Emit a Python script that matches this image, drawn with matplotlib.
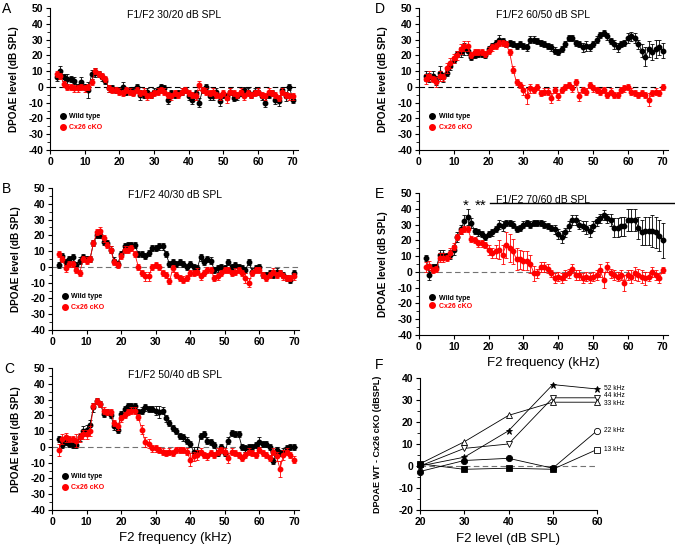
import numpy as np
import matplotlib
matplotlib.use("Agg")
import matplotlib.pyplot as plt
from matplotlib.lines import Line2D
from matplotlib.ticker import MultipleLocator

plt.rcParams['font.family'] = ['Liberation Sans', 'DejaVu Sans']

freq = np.arange(2, 71)

# panel A  F1/F2 30/20
a_wt = [6, 10, 6, 5, 5, 4, 0, 3, 0, -2,
        8, 9, 8, 6, 4, -1, -1, -2, -2, 0,
        -3, -2, -3, 0, -5, -5, -3, -5, -3, -2,
        0, -1, -8, -4, -5, -4, -3, -2, -6, -8,
        -4, -10, -2, 0, -6, -6, -3, -9, -5, -6,
        -3, -7, -6, -4, -2, -3, -5, -3, -3, -6,
        -10, -5, -4, -8, -9, -2, -6, 0, -8]
a_wt_err = [2, 3, 2, 3, 2, 2, 2, 3, 2, 5,
            3, 3, 2, 2, 2, 2, 2, 2, 2, 3,
            2, 2, 2, 2, 3, 2, 2, 2, 2, 2,
            2, 2, 3, 2, 2, 2, 2, 2, 2, 3,
            2, 3, 2, 2, 2, 2, 2, 3, 2, 2,
            2, 2, 2, 2, 2, 2, 2, 2, 2, 2,
            3, 2, 2, 3, 3, 2, 3, 2, 2]
a_ko = [8, 7, 2, 0, 0, -1, -1, 0, -1, 0,
        3, 10, 8, 7, 5, -1, -2, -2, -3, -4,
        -2, -3, -4, -2, -4, -3, -6, -5, -4, -3,
        -2, -3, -5, -6, -4, -5, -3, -2, -4, -5,
        -6, 1, -2, -3, -4, -3, -5, -6, -4, -7,
        -3, -4, -5, -3, -6, -4, -5, -4, -3, -5,
        -6, -3, -4, -5, -7, -3, -5, -6, -6]
a_ko_err = [2, 2, 2, 2, 2, 2, 2, 2, 2, 2,
            2, 2, 2, 2, 2, 2, 2, 2, 2, 2,
            2, 2, 2, 2, 2, 2, 2, 2, 2, 2,
            2, 2, 2, 2, 2, 2, 2, 2, 2, 2,
            2, 3, 2, 2, 2, 2, 2, 2, 2, 3,
            2, 2, 2, 2, 2, 2, 2, 2, 2, 2,
            2, 2, 2, 2, 2, 2, 2, 2, 2]

# panel B  F1/F2 40/30
b_wt = [1, 7, 3, 5, 6, 1, 4, 6, 5, 5,
        15, 20, 20, 16, 15, 11, 4, 2, 8, 13,
        14, 14, 14, 8, 8, 7, 9, 12, 12, 13,
        13, 8, 2, 3, 2, 3, 2, 0, 2, 0,
        -1, 6, 3, 5, 4, -2, -1, 0, -1, 3,
        0, 1, 0, -1, -2, 3, -3, -1, 0, -5,
        -5, -4, -5, -3, -4, -5, -7, -8, -4]
b_wt_err = [2] * 69
b_ko = [8, 5, -1, 2, 2, -2, -4, 5, 4, 5,
        15, 22, 23, 18, 14, 11, 3, 1, 7, 11,
        11, 12, 8, 0, -4, -6, -6, 0, 1, 0,
        -4, -5, -9, -1, -5, -7, -8, -7, -4, -4,
        -3, -6, -4, -2, -2, -7, -6, -4, -2, -2,
        -4, -3, -2, -4, -7, -10, -4, -2, -2, -5,
        -7, -5, -3, -5, -4, -6, -7, -7, -6]
b_ko_err = [2, 2, 2, 2, 2, 2, 2, 2, 2, 2,
            2, 2, 2, 2, 2, 2, 2, 2, 2, 2,
            2, 2, 2, 2, 2, 3, 3, 2, 2, 2,
            2, 2, 2, 2, 2, 2, 2, 2, 2, 2,
            2, 2, 2, 2, 2, 2, 2, 2, 2, 2,
            2, 2, 2, 2, 3, 3, 2, 2, 2, 2,
            2, 2, 2, 2, 2, 2, 2, 2, 2]

# panel C  F1/F2 50/40
c_wt = [5, 1, 3, 2, 1, 1, 6, 10, 11, 14,
        25, 29, 27, 21, 22, 20, 13, 11, 21, 24,
        26, 26, 26, 22, 23, 25, 24, 24, 23, 22,
        23, 18, 15, 12, 10, 7, 6, 4, 2, -3,
        -3, 7, 8, 4, 3, 1, -4, 0, -4, 4,
        9, 8, 8, 0, -1, 0, 0, 1, 3, 2,
        2, 0, -9, -2, -4, -3, -1, 0, 0]
c_wt_err = [2, 2, 2, 2, 2, 2, 2, 3, 3, 3,
            3, 2, 2, 2, 2, 2, 2, 2, 2, 2,
            2, 2, 2, 2, 2, 2, 2, 2, 3, 4,
            2, 2, 2, 2, 2, 2, 2, 2, 2, 3,
            3, 2, 2, 2, 2, 2, 2, 2, 2, 2,
            2, 2, 2, 2, 2, 2, 2, 2, 3, 2,
            2, 2, 2, 2, 2, 2, 2, 2, 2]
c_ko = [-2, 5, 6, 5, 5, 4, 6, 8, 8, 10,
        26, 29, 27, 23, 22, 22, 15, 13, 18, 20,
        22, 23, 23, 19, 11, 3, 2, -1, -1, -2,
        -3, -4, -3, -4, -2, -2, -2, -3, -8, -6,
        -5, -3, -5, -6, -4, -5, -3, -2, -3, -7,
        -3, -4, -5, -7, -5, -3, -4, -5, -2, -4,
        -5, -7, -3, -6, -14, -5, -3, -5, -8]
c_ko_err = [4, 3, 3, 2, 2, 4, 3, 3, 3, 3,
            2, 2, 2, 2, 2, 2, 2, 2, 2, 2,
            2, 2, 2, 2, 3, 3, 3, 2, 2, 2,
            2, 2, 2, 2, 2, 2, 2, 2, 4, 3,
            3, 2, 2, 2, 2, 2, 2, 2, 2, 3,
            2, 2, 2, 2, 2, 2, 2, 2, 2, 2,
            2, 2, 2, 3, 5, 3, 2, 2, 2]

# panel D  F1/F2 60/50
d_wt = [7, 6, 7, 4, 9, 6, 9, 13, 17, 21,
        22, 24, 23, 19, 20, 21, 21, 20, 24, 26,
        28, 30, 29, 27, 28, 27, 26, 27, 26, 25,
        30, 30, 29, 28, 27, 26, 25, 23, 22, 24,
        27, 31, 31, 28, 27, 25, 26, 25, 27, 30,
        33, 34, 32, 29, 27, 25, 27, 28, 31, 32,
        31, 27, 23, 19, 24, 22, 24, 25, 23]
d_wt_err = [3, 3, 3, 3, 4, 3, 2, 2, 2, 2,
            3, 4, 3, 2, 2, 2, 2, 2, 2, 2,
            2, 3, 2, 2, 2, 2, 2, 2, 2, 2,
            2, 2, 2, 2, 2, 2, 2, 2, 2, 2,
            2, 2, 2, 2, 2, 3, 3, 2, 2, 2,
            2, 2, 2, 2, 3, 3, 2, 2, 3, 3,
            3, 3, 4, 6, 5, 5, 6, 5, 5]
d_ko = [5, 7, 5, 3, 7, 6, 12, 15, 18, 20,
        24, 26, 26, 20, 22, 22, 22, 21, 23, 25,
        26, 28, 28, 27, 22, 11, 3, 1, -2, -6,
        -1, -2, 0, -4, -3, -3, -7, -2, -6, -2,
        0, 1, -1, 3, -6, -2, -3, 1, -1, -2,
        -3, -2, -5, -3, -5, -5, -2, -1, 0, -3,
        -4, -5, -4, -5, -8, -4, -3, -4, 0]
d_ko_err = [3, 3, 2, 3, 3, 2, 3, 3, 3, 3,
            3, 3, 3, 2, 2, 2, 2, 2, 2, 2,
            2, 2, 2, 2, 2, 2, 2, 2, 3, 5,
            3, 2, 2, 2, 2, 2, 3, 2, 2, 2,
            2, 2, 2, 2, 3, 2, 2, 2, 2, 2,
            2, 2, 2, 2, 2, 2, 2, 2, 2, 2,
            2, 2, 2, 2, 4, 2, 2, 2, 2]

# panel E  F1/F2 70/60
e_wt = [9, -2, 3, 3, 11, 11, 10, 11, 14, 22,
        27, 32, 35, 31, 26, 25, 24, 22, 24, 25,
        27, 30, 29, 31, 31, 30, 27, 28, 30, 31,
        30, 31, 31, 31, 30, 29, 28, 27, 24, 22,
        25, 29, 33, 33, 30, 29, 28, 26, 29, 32,
        34, 36, 34, 33, 28, 28, 29, 29, 33, 33,
        33, 28, 25, 26, 26, 26, 25, 23, 20]
e_wt_err = [2, 3, 2, 2, 3, 3, 2, 3, 3, 3,
            3, 4, 5, 3, 2, 2, 2, 2, 2, 2,
            2, 3, 3, 2, 2, 2, 2, 2, 2, 2,
            2, 2, 2, 2, 2, 2, 2, 3, 3, 4,
            3, 3, 3, 3, 3, 3, 4, 4, 3, 3,
            3, 3, 3, 4, 6, 6, 6, 6, 7, 7,
            7, 7, 8, 9, 9, 10, 10, 10, 11]
e_ko = [3, 4, 1, 2, 9, 9, 9, 12, 16, 22,
        26, 27, 27, 21, 20, 18, 18, 17, 14, 12,
        13, 14, 11, 17, 15, 13, 8, 8, 7, 7,
        5, -1, -1, 3, 3, 2, -1, -4, -3, -4,
        -2, -1, 2, -2, -2, -4, -3, -4, -3, -2,
        1, -5, 3, -1, -2, -3, -2, -7, -2, -3,
        -1, -2, -3, -4, -3, 0, -2, -4, 1]
e_ko_err = [3, 3, 2, 2, 3, 3, 2, 3, 2, 2,
            2, 2, 2, 2, 2, 2, 2, 2, 3, 3,
            4, 6, 6, 8, 9, 8, 7, 6, 6, 6,
            6, 5, 3, 3, 3, 3, 2, 3, 3, 3,
            3, 3, 3, 3, 3, 3, 3, 3, 3, 3,
            4, 5, 3, 3, 3, 3, 3, 5, 3, 4,
            4, 4, 4, 4, 3, 3, 3, 3, 2]

# panel F  WT - cKO difference vs F2 level
f_level = [20, 30, 40, 50, 60]
f_labels = ['52 kHz', '44 kHz', '33 kHz', '22 kHz', '13 kHz']
f_vals = [[0, 4, 16, 37, 35],
          [0, 8, 10, 31, 31],
          [1, 11, 23, 29, 29],
          [-2.5, 2.5, 3.5, -1, 16],
          [1, -1.5, -1, -1.5, 7.5]]
f_filled = [[1, 1, 1, 1, 1],
            [1, 0, 0, 0, 0],
            [1, 0, 0, 0, 0],
            [1, 1, 1, 1, 0],
            [1, 1, 1, 1, 0]]
f_markers = ['*', 'v', '^', 'o', 's']
f_label_shift = [0, 1.2, -0.6, 0, 0]

RED = '#ff0000'
W, H = 675, 545


def box(l, t, r, b):
    return [l / W, 1 - b / H, (r - l) / W, (b - t) / H]


def style_axes(ax):
    for s in ['top', 'right']:
        ax.spines[s].set_visible(False)
    for s in ['left', 'bottom']:
        ax.spines[s].set_linewidth(0.8)
    ax.tick_params(labelsize=7.5, length=3, width=0.8, pad=2)
    ax.tick_params(which='minor', length=2, width=0.6)
    ax.set_xticklabels([str(int(v)) for v in ax.get_xticks()], fontweight='bold')
    ax.set_yticklabels([str(int(v)) for v in ax.get_yticks()], fontweight='bold')


def draw_panel(ax, wt, wt_err, ko, ko_err, zero_col):
    ax.axhline(0, color=zero_col, ls=(0, (5, 3)), lw=0.8, zorder=1)
    kw = dict(fmt='-o', ms=3.2, lw=0.6, elinewidth=0.6, capsize=1.6, capthick=0.6)
    ax.errorbar(freq, wt, yerr=wt_err, color='k', zorder=3, **kw)
    ax.errorbar(freq, ko, yerr=ko_err, color=RED, zorder=4, **kw)
    ax.set_xlim(0, 71.5)
    ax.set_ylim(-40, 50)
    ax.set_xticks(range(0, 71, 10))
    ax.set_yticks(range(-40, 51, 10))
    ax.yaxis.set_minor_locator(MultipleLocator(5))
    style_axes(ax)
    ax.set_ylabel('DPOAE level (dB SPL)', fontsize=7.2, fontweight='bold')
    ax.yaxis.set_label_coords(-0.125, 0.5)


def add_legend(ax, x, y, spacing):
    hs = [Line2D([], [], ls='none', marker='o', ms=4, color='k'),
          Line2D([], [], ls='none', marker='o', ms=4, color=RED)]
    leg = ax.legend(hs, ['Wild type', 'Cx26 cKO'], loc='center left',
                    bbox_to_anchor=(x, y), frameon=False,
                    handlelength=0.6, handletextpad=0.6, borderpad=0,
                    borderaxespad=0, labelspacing=spacing,
                    prop={'weight': 'bold', 'size': 5})
    leg.get_texts()[0].set_color('k')
    leg.get_texts()[1].set_color(RED)


fig = plt.figure(figsize=(6.75, 5.45), dpi=100)

axA = fig.add_axes(box(50, 8, 298, 150))
axB = fig.add_axes(box(52, 188, 299, 330))
axC = fig.add_axes(box(52, 368, 299, 510))
axD = fig.add_axes(box(419, 8, 668, 150))
axE = fig.add_axes(box(419, 193, 668, 335))
axF = fig.add_axes(box(420, 378, 597, 510))

panels = [(axA, a_wt, a_wt_err, a_ko, a_ko_err, 'k', 'F1/F2 30/20 dB SPL'),
          (axB, b_wt, b_wt_err, b_ko, b_ko_err, '0.45', 'F1/F2 40/30 dB SPL'),
          (axC, c_wt, c_wt_err, c_ko, c_ko_err, '0.45', 'F1/F2 50/40 dB SPL'),
          (axD, d_wt, d_wt_err, d_ko, d_ko_err, 'k', 'F1/F2 60/50 dB SPL')]
for ax, wt, we, ko, ke, zc, title in panels:
    draw_panel(ax, wt, we, ko, ke, zc)
    ax.text(0.5, 0.95, title, transform=ax.transAxes, ha='center', va='center',
            fontsize=7.5)
    add_legend(ax, 0.045, 0.195, 0.55)

draw_panel(axE, e_wt, e_wt_err, e_ko, e_ko_err, '0.45')
add_legend(axE, 0.045, 0.23, 0.15)
axE.text(35.5, 45.3, 'F1/F2 70/60 dB SPL', ha='center', va='center', fontsize=7.5)
axE.plot([20.5, 73.5], [43.6, 43.6], color='k', lw=1.0, clip_on=False)
axE.text(13.3, 42, '*', ha='center', va='center', fontsize=11)
axE.text(17.6, 42, '**', ha='center', va='center', fontsize=11)

for ax in (axC, axE):
    ax.set_xlabel('F2 frequency (kHz)', fontsize=9.5)
    ax.xaxis.set_label_coords(0.5, -0.155)

# panel F
axF.axhline(0, color='0.45', ls=(0, (5, 3)), lw=0.8, zorder=1)
for vals, fill, mk, lab, sh in zip(f_vals, f_filled, f_markers, f_labels,
                                   f_label_shift):
    ms = 5 if mk == '*' else 4.5
    axF.plot(f_level, vals, '-', color='k', lw=0.6, zorder=2)
    for xv, yv, fl in zip(f_level, vals, fill):
        axF.plot(xv, yv, marker=mk, ms=ms, mec='k', mew=0.6,
                 mfc='k' if fl else 'white', ls='none', zorder=3, clip_on=False)
    axF.text(f_level[-1] + 1.5, vals[-1] + sh, lab, fontsize=4.8, va='center',
             ha='left')
axF.set_xlim(20, 60)
axF.set_ylim(-20, 40)
axF.set_xticks(f_level)
axF.set_yticks(range(-20, 41, 10))
axF.yaxis.set_minor_locator(MultipleLocator(5))
style_axes(axF)
axF.set_xlabel('F2 level (dB SPL)', fontsize=9.5)
axF.xaxis.set_label_coords(0.5, -0.175)
axF.set_ylabel('DPOAE WT - Cx26 cKO (dBSPL)', fontsize=6.5, fontweight='bold')
axF.yaxis.set_label_coords(-0.215, 0.5)

for lab, px, py in [('A', 2, 2), ('B', 2, 182), ('C', 4, 362),
                    ('D', 375, 2), ('E', 375, 187), ('F', 375, 358)]:
    fig.text(px / W, 1 - py / H, lab, fontsize=10, ha='left', va='top')

fig.savefig('out.png', dpi=100)
